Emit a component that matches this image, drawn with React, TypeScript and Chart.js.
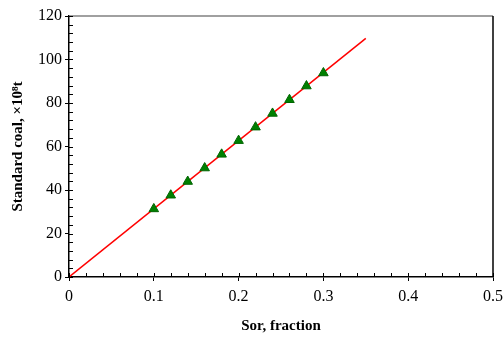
import React, { useEffect, useRef } from "react";
import { Chart, registerables } from "chart.js";

Chart.register(...registerables);

const sorValues = [0.1, 0.12, 0.14, 0.16, 0.18, 0.2, 0.22, 0.24, 0.26, 0.28, 0.3];
const coalValues = [31.3, 37.6, 43.9, 50.1, 56.4, 62.7, 68.9, 75.2, 81.5, 87.8, 93.8];
const trendX = [0, 0.35];
const trendY = [0, 109.7];
const xTicks = [0, 0.1, 0.2, 0.3, 0.4, 0.5];
const yTicks = [0, 20, 40, 60, 80, 100, 120];
const xMinorStep = 0.02;
const yMinorStep = 4;

const FONT = "'Liberation Serif', 'Times New Roman', serif";

const frameAndTicks = {
  id: "frameAndTicks",
  afterDraw(chart: any) {
    const { ctx, chartArea: a, scales } = chart;
    const xs = scales.x;
    const ys = scales.y;
    ctx.save();
    ctx.lineWidth = 1.5;
    ctx.strokeStyle = "#808080";
    ctx.beginPath();
    ctx.moveTo(a.left, a.top);
    ctx.lineTo(a.right, a.top);
    ctx.stroke();
    ctx.strokeStyle = "#000";
    ctx.beginPath();
    ctx.moveTo(a.right, a.top);
    ctx.lineTo(a.right, a.bottom);
    ctx.stroke();
    ctx.lineWidth = 1;
    ctx.beginPath();
    for (let v = xs.min; v <= xs.max + 1e-9; v += xMinorStep) {
      const px = Math.round(xs.getPixelForValue(v)) + 0.5;
      ctx.moveTo(px, a.bottom);
      ctx.lineTo(px, a.bottom - 4);
    }
    for (let v = ys.min; v <= ys.max + 1e-9; v += yMinorStep) {
      const py = Math.round(ys.getPixelForValue(v)) + 0.5;
      ctx.moveTo(a.left, py);
      ctx.lineTo(a.left + 4, py);
    }
    ctx.stroke();
    ctx.restore();
  },
};

export default function App() {
  const ref = useRef<HTMLCanvasElement>(null);
  useEffect(() => {
    if (!ref.current) return;
    const chart = new Chart(ref.current, {
      type: "scatter",
      data: {
        datasets: [
          {
            type: "line",
            data: trendX.map((x, i) => ({ x, y: trendY[i] })),
            borderColor: "#ff0000",
            borderWidth: 1.5,
            pointRadius: 0,
            showLine: true,
            order: 2,
          } as any,
          {
            data: sorValues.map((x, i) => ({ x, y: coalValues[i] })),
            pointStyle: "triangle",
            pointRadius: 5.5,
            backgroundColor: "#008000",
            borderColor: "#006400",
            borderWidth: 1,
            order: 1,
          },
        ],
      },
      options: {
        animation: false,
        responsive: false,
        devicePixelRatio: 1,
        layout: { padding: { top: 16, right: 11, left: 0, bottom: 0 } },
        plugins: { legend: { display: false }, tooltip: { enabled: false } },
        scales: {
          x: {
            type: "linear",
            min: 0,
            max: 0.5,
            afterBuildTicks: (s: any) => {
              s.ticks = xTicks.map((v) => ({ value: v }));
            },
            afterFit: (s: any) => {
              s.height = 60;
              s.paddingLeft = 0;
              s.paddingRight = 0;
            },
            ticks: {
              color: "#000",
              font: { family: FONT, size: 16 },
              padding: 6,
              maxRotation: 0,
              callback: (v: any) => String(Number(v)),
            },
            grid: {
              display: true,
              drawOnChartArea: false,
              drawTicks: true,
              tickLength: 4,
              tickColor: "#000",
            },
            border: { display: true, color: "#000", width: 1.5 },
            title: {
              display: true,
              text: "Sor, fraction",
              color: "#000",
              font: { family: FONT, size: 15, weight: "bold" },
              padding: { bottom: 2, top: 0 },
            },
          },
          y: {
            type: "linear",
            min: 0,
            max: 120,
            afterBuildTicks: (s: any) => {
              s.ticks = yTicks.map((v) => ({ value: v }));
            },
            afterFit: (s: any) => {
              s.width = 69;
              s.paddingTop = 0;
              s.paddingBottom = 0;
            },
            ticks: {
              color: "#000",
              font: { family: FONT, size: 16 },
              padding: 3,
            },
            grid: {
              display: true,
              drawOnChartArea: false,
              drawTicks: true,
              tickLength: 4,
              tickColor: "#000",
            },
            border: { display: true, color: "#000", width: 1.5 },
            title: {
              display: true,
              text: "Standard coal, ×10⁸t",
              color: "#000",
              font: { family: FONT, size: 15, weight: "bold" },
              padding: { top: 9, bottom: 0 },
            },
          },
        },
      },
      plugins: [frameAndTicks],
    } as any);
    return () => chart.destroy();
  }, []);
  return (
    <div style={{ position: "absolute", left: 0, top: 0, width: 504, height: 337, background: "#fff" }}>
      <canvas ref={ref} width={504} height={337} style={{ display: "block" }} />
    </div>
  );
}
